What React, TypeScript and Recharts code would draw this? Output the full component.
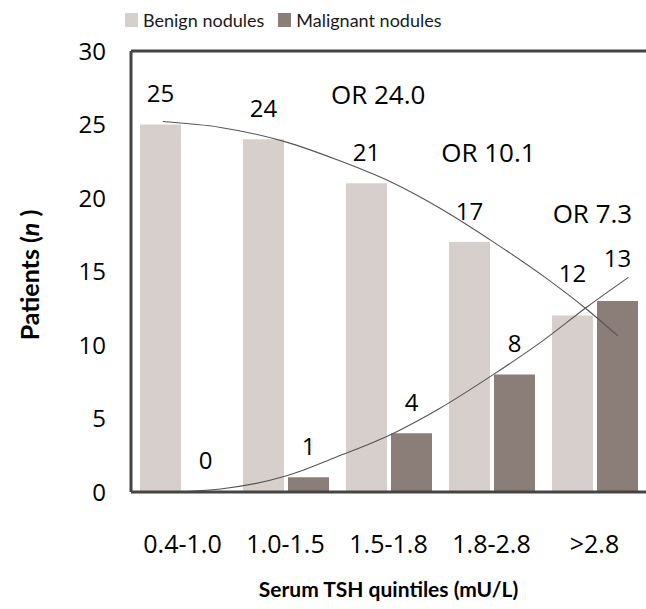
import React from "react";
import {
  ComposedChart,
  Bar,
  Line,
  XAxis,
  YAxis,
  LabelList,
  ReferenceLine,
  ReferenceDot,
  Legend,
} from "recharts";

const categories = ["0.4-1.0", "1.0-1.5", "1.5-1.8", "1.8-2.8", ">2.8"];
const benign = [25, 24, 21, 17, 12];
const malignant = [0, 1, 4, 8, 13];
const yTicks = [0, 5, 10, 15, 20, 25, 30];

// trend curves (x in category units, 0..5)
const benignTrendX = [0.31, 0.87, 1.51, 2.0, 2.52, 3.0, 3.52, 4.0, 4.43, 4.73];
const benignTrendY = [25.2, 24.8, 23.8, 22.6, 21.1, 19.3, 17.0, 14.7, 12.4, 10.6];
const malignantTrendX = [0.45, 0.87, 1.51, 2.0, 2.52, 3.0, 3.52, 4.0, 4.43, 4.83];
const malignantTrendY = [0.0, 0.2, 1.1, 2.4, 3.9, 5.7, 8.0, 10.3, 12.6, 14.6];

// odds-ratio annotations
const orLabels = ["OR 24.0", "OR 10.1", "OR 7.3"];
const orX = [2.4, 3.47, 4.48];
const orY = [27.07, 23.13, 18.98];

const seriesNames = ["Benign nodules", "Malignant nodules"];

const data = categories.map((c, i) => ({
  cat: c,
  benign: benign[i],
  malignant: malignant[i],
}));
const benignTrend = benignTrendX.map((t, i) => ({ t, v: benignTrendY[i] }));
const malignantTrend = malignantTrendX.map((t, i) => ({ t, v: malignantTrendY[i] }));

const FONT = "'Open Sans', Lato, sans-serif";
const TITLE_FONT = "Lato, 'Open Sans', sans-serif";
const BENIGN_COLOR = "#d7cfcc";
const MALIGNANT_COLOR = "#8b7e79";
const AXIS_COLOR = "#444444";
const TREND_COLOR = "#555555";

const benignLift = [32, 32, 32, 32, 43];
const malignantLift = [32, 32, 32, 32, 43];

const makeLabel = (lift: number[]) => (props: any) => {
  const { x, y, width, height, value, index } = props;
  const top = Math.min(Number(y), Number(y) + Number(height || 0));
  return (
    <text
      x={Number(x) + Number(width) / 2}
      y={top - lift[index]}
      textAnchor="middle"
      dominantBaseline="central"
      fontSize={24}
      fontFamily={FONT}
      fill="#000"
    >
      {value}
    </text>
  );
};

const LegendContent = () => {
  const colors = [BENIGN_COLOR, MALIGNANT_COLOR];
  return (
    <div style={{ display: "flex", alignItems: "center", fontFamily: TITLE_FONT, fontSize: 18, color: "#1a1a1a" }}>
      {seriesNames.map((n, i) => (
        <div key={n} style={{ display: "flex", alignItems: "center", marginRight: 14 }}>
          <div style={{ width: 13, height: 14, background: colors[i], marginRight: 5 }} />
          <span>{n}</span>
        </div>
      ))}
    </div>
  );
};

const OrLabel = (text: string) => (props: any) => {
  const vb = props.viewBox || {};
  const cx = vb.cx !== undefined ? vb.cx : vb.x + (vb.width || 0) / 2;
  const cy = vb.cy !== undefined ? vb.cy : vb.y + (vb.height || 0) / 2;
  return (
    <text
      x={cx}
      y={cy}
      textAnchor="middle"
      dominantBaseline="central"
      fontSize={26}
      fontFamily={FONT}
      fill="#000"
    >
      {text}
    </text>
  );
};

const XTitle = (props: any) => {
  const vb = props.viewBox;
  return (
    <text
      x={vb.x + vb.width / 2}
      y={vb.y + 105}
      textAnchor="middle"
      fontSize={21}
      fontWeight="bold"
      fontFamily={TITLE_FONT}
      fill="#000"
    >
      Serum TSH quintiles (mU/L)
    </text>
  );
};

const YTitle = (props: any) => {
  const vb = props.viewBox;
  const cx = vb.x + 29;
  const cy = 275;
  return (
    <text
      x={cx}
      y={cy}
      transform={`rotate(-90 ${cx} ${cy})`}
      textAnchor="middle"
      dominantBaseline="central"
      fontSize={25}
      fontWeight="bold"
      fontFamily={TITLE_FONT}
      fill="#000"
    >
      Patients (<tspan fontStyle="italic">n</tspan> )
    </text>
  );
};

export default function App() {
  return (
    <div style={{ position: "absolute", left: 0, top: 0, width: 646, height: 609, background: "#fff", fontFamily: FONT }}>
      <ComposedChart
        width={646}
        height={609}
        data={data}
        margin={{ top: 51, right: 0, bottom: 0, left: 0 }}
      >
        <XAxis
          xAxisId="c"
          dataKey="cat"
          type="category"
          height={117}
          axisLine={{ stroke: AXIS_COLOR, strokeWidth: 3 }}
          tickLine={false}
          tickSize={0}
          tickMargin={43}
          tick={{ fontSize: 25, fill: "#000", fontFamily: FONT }}
          interval={0}
          label={<XTitle />}
        />
        <XAxis xAxisId="t" dataKey="t" type="number" domain={[0, 5]} hide allowDataOverflow />
        <YAxis
          width={131}
          domain={[0, 30]}
          ticks={yTicks}
          interval={0}
          axisLine={{ stroke: AXIS_COLOR, strokeWidth: 3 }}
          tickLine={false}
          tickSize={0}
          tickMargin={25}
          tick={{ fontSize: 24, fill: "#000", fontFamily: FONT }}
          label={<YTitle />}
        />
        <ReferenceLine xAxisId="c" y={30} stroke={AXIS_COLOR} strokeWidth={3} />
        <Legend
          layout="horizontal"
          verticalAlign="middle"
          align="center"
          content={<LegendContent />}
          wrapperStyle={{ top: 9, left: 125, width: 400, height: 24 }}
        />
        <Bar
          xAxisId="c"
          dataKey="benign"
          name={seriesNames[0]}
          fill={BENIGN_COLOR}
          barSize={41}
          minPointSize={1}
          isAnimationActive={false}
        >
          <LabelList dataKey="benign" content={makeLabel(benignLift)} />
        </Bar>
        <Bar
          xAxisId="c"
          dataKey="malignant"
          name={seriesNames[1]}
          fill={MALIGNANT_COLOR}
          barSize={41}
          minPointSize={1}
          isAnimationActive={false}
        >
          <LabelList dataKey="malignant" content={makeLabel(malignantLift)} />
        </Bar>
        <Line
          xAxisId="t"
          data={benignTrend}
          dataKey="v"
          type="monotone"
          stroke={TREND_COLOR}
          strokeWidth={1.1}
          dot={false}
          activeDot={false}
          legendType="none"
          isAnimationActive={false}
        />
        <Line
          xAxisId="t"
          data={malignantTrend}
          dataKey="v"
          type="monotone"
          stroke={TREND_COLOR}
          strokeWidth={1.1}
          dot={false}
          activeDot={false}
          legendType="none"
          isAnimationActive={false}
        />
        {orLabels.map((s, i) => (
          <ReferenceDot
            key={s}
            xAxisId="t"
            x={orX[i]}
            y={orY[i]}
            r={0}
            fill="none"
            stroke="none"
            label={OrLabel(s)}
          />
        ))}
      </ComposedChart>
    </div>
  );
}
